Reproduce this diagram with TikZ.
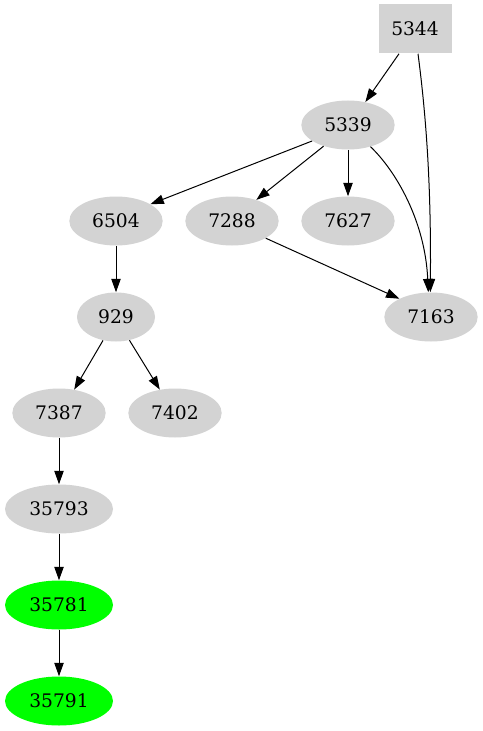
\documentclass[tikz,border=0pt]{standalone}
\usepackage{fontspec}
\setmainfont{DejaVu Serif}
\usetikzlibrary{shapes.geometric,arrows.meta}
\definecolor{lgray}{HTML}{D3D3D3}
\definecolor{lgreen}{HTML}{00FF00}
\tikzset{
  gv/.style={ellipse,fill=lgray,draw=none,inner sep=0pt,minimum height=36.75pt,font=\fontsize{14pt}{16pt}\selectfont},
  w4/.style={minimum width=70pt},
  w3/.style={minimum width=58.5pt},
  w5/.style={minimum width=81pt},
  green/.style={fill=lgreen},
  boxnode/.style={rectangle,fill=lgray,draw=none,inner sep=0pt,minimum width=54.75pt,minimum height=36.75pt,font=\fontsize{14pt}{16pt}\selectfont},
  edge/.style={draw=black,line width=0.75pt,-{Triangle[length=10pt,width=7pt]}}
}
\begin{document}
\begin{tikzpicture}[x=0.75pt,y=-0.75pt]
\useasboundingbox (0,0) rectangle (482,731);
\node[boxnode] (n5344) at (415,29) {5344};
\node[gv,w4] (n5339) at (348,125) {5339};
\node[gv,w4] (n6504) at (116,221) {6504};
\node[gv,w4] (n7288) at (232,221) {7288};
\node[gv,w4] (n7627) at (348,221) {7627};
\node[gv,w4] (n7163) at (431,317) {7163};
\node[gv,w3] (n929) at (116,317) {929};
\node[gv,w4] (n7387) at (59,413) {7387};
\node[gv,w4] (n7402) at (175,413) {7402};
\node[gv,w5] (n35793) at (59,509) {35793};
\node[gv,w5,green] (n35781) at (59,605) {35781};
\node[gv,w5,green] (n35791) at (59,701) {35791};

\draw[edge] ([xshift=-12pt]n5344.south) -- (n5339.53);
\draw[edge] ([xshift=2.25pt]n5344.south) .. controls (428,130) and (431,200) .. ([xshift=-0.5pt]n7163.north);
\draw[edge] (n5339.204) -- (n6504.26);
\draw[edge] (n5339.221) -- (n7288.41);
\draw[edge] (n5339.south) -- (n7627.north);
\draw[edge] (n5339.316) .. controls (395,170) and (425,220) .. ([xshift=-2pt]n7163.north);
\draw[edge] (n7288.333) -- (n7163.150);
\draw[edge] (n6504.south) -- (n929.north);
\draw[edge] (n929.241) -- (n7387.57);
\draw[edge] (n929.300) -- (n7402.123);
\draw[edge] (n7387.south) -- (n35793.north);
\draw[edge] (n35793.south) -- (n35781.north);
\draw[edge] (n35781.south) -- (n35791.north);
\end{tikzpicture}
\end{document}
